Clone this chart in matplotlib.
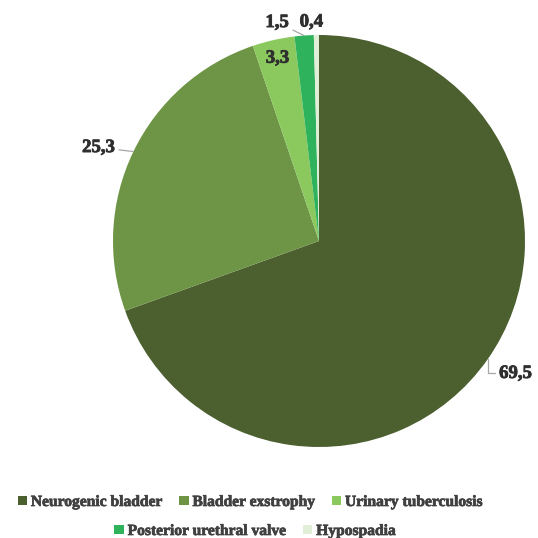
import numpy as np
import matplotlib
matplotlib.use("Agg")
import matplotlib.pyplot as plt
import matplotlib.patheffects as pe
from matplotlib.patches import Patch

categories = ["Neurogenic bladder", "Bladder exstrophy", "Urinary tuberculosis",
              "Posterior urethral valve", "Hypospadia"]
values = [69.5, 25.3, 3.3, 1.5, 0.4]
value_labels = ["69,5", "25,3", "3,3", "1,5", "0,4"]

colors = ["#4b5f2f", "#6e9445", "#8bc95f", "#2eb25c", "#e1eed8"]

W = H = 538
fig = plt.figure(figsize=(W / 100, H / 100), dpi=100)
ax = fig.add_axes([0, 0, 1, 1])

cx, cy, R = 319, 297, 206
wedges, _ = ax.pie(values, colors=colors, startangle=90, counterclock=False,
                   center=(cx, cy), radius=R, frame=True,
                   wedgeprops=dict(linewidth=0))
ax.set_xlim(0, W)
ax.set_ylim(0, H)
ax.set_aspect("equal")
ax.axis("off")

# slightly heavier strokes for the bold serif text
heavy = [pe.withStroke(linewidth=0.6, foreground="#2f2f2f")]
heavy_leg = [pe.withStroke(linewidth=0.5, foreground="#404040")]

label_font = dict(family="Liberation Serif", weight="bold", size=13.5, color="#2f2f2f")
line_kw = dict(arrowstyle="-", color="#a6a6a6", lw=0.9, shrinkA=1, shrinkB=0)

# text placement: offset in pixels from the wedge's outer edge, or inside at a radius fraction
placements = [
    ("out", (28, -14), "angle,angleA=0,angleB=90"),
    ("out", (-35, 4), "arc3"),
    ("in", 0.91, None),
    ("out", (-27, 13), "arc3"),
    ("out", (-5, 13), None),
]

for w, lab, (kind, pos, conn) in zip(wedges, value_labels, placements):
    mid = np.deg2rad((w.theta1 + w.theta2) / 2)
    ex, ey = cx + R * np.cos(mid), cy + R * np.sin(mid)
    if kind == "in":
        ax.text(cx + pos * R * np.cos(mid), cy + pos * R * np.sin(mid), lab,
                ha="center", va="center", path_effects=heavy, **label_font)
    else:
        props = None if conn is None else dict(connectionstyle=conn, **line_kw)
        ann = ax.annotate(lab, xy=(ex, ey), xytext=pos, textcoords="offset pixels",
                          ha="center", va="center", arrowprops=props, **label_font)
        ann.set_path_effects(heavy)
        if ann.arrow_patch is not None:
            ann.arrow_patch.set_path_effects([])

handles = [Patch(facecolor=c, edgecolor="none") for c in colors]
leg_kw = dict(frameon=False, handlelength=0.6, handleheight=0.6, handletextpad=0.25,
              columnspacing=1.1, borderaxespad=0, borderpad=0,
              prop=dict(family="Liberation Serif", weight="bold", size=11.2))
leg1 = fig.legend(handles[:3], categories[:3], ncol=3, loc="center",
                  bbox_to_anchor=(250 / W, 1 - 502 / H), **leg_kw)
leg2 = fig.legend(handles[3:], categories[3:], ncol=2, loc="center",
                  bbox_to_anchor=(255 / W, 1 - 531 / H), **leg_kw)
for leg in (leg1, leg2):
    for t in leg.get_texts():
        t.set_color("#404040")
        t.set_path_effects(heavy_leg)

fig.savefig("out.png", dpi=100)
